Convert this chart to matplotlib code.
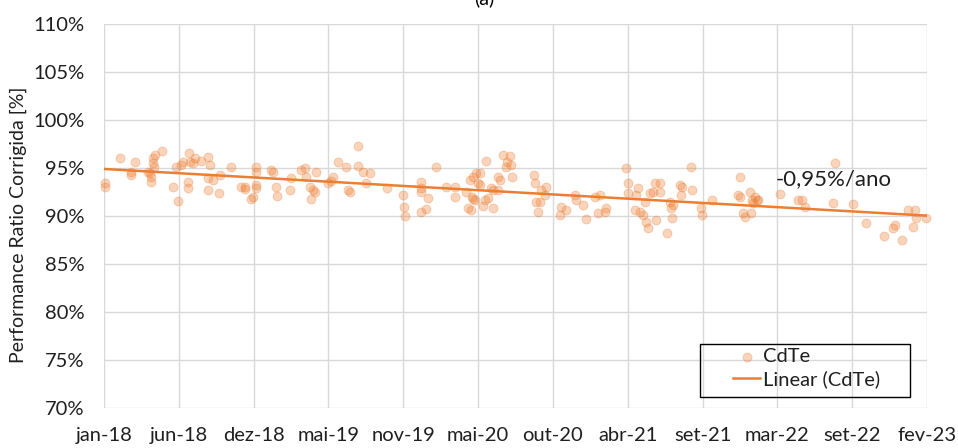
import numpy as np
import matplotlib
matplotlib.use("Agg")
import matplotlib.pyplot as plt
import matplotlib.dates as mdates
from matplotlib.patches import Rectangle
import datetime as dt

# ---------------- data ----------------
start_date = dt.date(2018, 1, 5)          # first axis tick
tick_step_days = 170                      # spacing between axis labels
n_ticks = 12
month_pt = ["jan", "fev", "mar", "abr", "mai", "jun",
            "jul", "ago", "set", "out", "nov", "dez"]

# days since start_date
days = [2, 2, 36, 61, 61, 70, 100, 105, 107, 107, 111, 116, 111, 114, 132, 157, 168,
        164, 175, 180, 193, 195, 202, 207, 191, 191, 220, 236, 241, 236, 248, 236,
        261, 264, 289, 311,
        320, 320, 339, 334, 345, 345, 345, 345, 380, 384, 391, 393, 423, 425,
        448, 457, 459, 468, 470, 475, 480, 482, 509, 516, 520, 532, 550, 555, 559,
        577, 577, 589, 605, 596,
        643, 680, 682, 684, 721, 721, 721, 721, 732, 736, 755, 777, 798, 798,
        823, 827, 834, 832, 839, 846, 855, 839, 843, 836, 850, 855, 861, 866, 873,
        868, 884, 880, 884, 896, 900, 896, 907, 923, 916, 914, 925, 927,
        977, 980, 982, 991, 986, 993, 1005, 1002, 1039, 1036, 1050, 1071, 1073,
        1089, 1096, 1116, 1127, 1123, 1141, 1139, 1187, 1191, 1191, 1207, 1218,
        1225, 1214, 1209, 1232, 1236, 1241, 1248, 1230, 1252, 1264, 1255, 1264,
        1280, 1286, 1289, 1293, 1291, 1309, 1314, 1312, 1334, 1336, 1357, 1359,
        1382, 1441, 1446, 1446, 1452, 1457, 1468, 1473, 1475, 1480, 1484, 1487,
        1471, 1537, 1577, 1586, 1593,
        1662, 1657, 1702, 1732, 1773, 1798, 1793, 1814, 1827, 1843, 1846, 1839, 1868]

pr_cdte = [93.4, 93.0, 96.0, 94.6, 94.3, 95.6, 94.6, 94.5, 94.1, 93.5, 96.0, 96.4, 95.5, 95.1, 96.8, 93.0, 91.6,
           95.1, 95.3, 95.6, 96.6, 95.6, 95.5, 96.0, 93.5, 92.9, 95.7, 96.1, 95.3, 94.0, 93.75, 92.7,
           92.4, 94.3, 95.1, 93.0,
           93.0, 92.8, 92.0, 91.8, 95.1, 94.6, 93.2, 92.9, 94.8, 94.6, 93.0, 92.1, 92.7, 94.0,
           94.8, 95.0, 94.1, 93.0, 91.8, 92.7, 92.5, 94.6, 93.4, 93.6, 94.1, 95.6, 95.1, 92.7, 92.5,
           97.3, 95.2, 94.6, 94.5, 93.4,
           92.9, 92.2, 90.9, 90.0, 93.5, 92.9, 92.5, 90.4, 90.7, 91.9, 95.1, 93.0, 93.0, 92.0,
           92.5, 90.8, 90.6, 93.75, 94.1, 94.5, 94.5, 91.8, 91.7, 92.0, 93.4, 93.2, 91.0, 91.7, 91.9,
           95.7, 90.8, 92.9, 92.7, 94.1, 93.75, 92.7, 96.4, 96.3, 95.6, 95.1, 95.3, 94.1,
           94.3, 93.4, 91.5, 91.5, 90.4, 92.7, 93.0, 92.2, 90.9, 90.1, 90.6, 92.2, 91.7,
           91.15, 89.7, 92.0, 92.2, 90.3, 90.8, 90.4, 95.0, 93.4, 92.4, 90.6, 90.4,
           90.1, 92.9, 92.2, 89.4, 88.75, 92.4, 92.5, 91.5, 93.4, 93.4, 89.6, 92.5,
           88.2, 91.5, 90.8, 91.15, 89.8, 93.2, 93.0, 92.2, 95.1, 92.7, 90.8, 90.1,
           91.7, 92.2, 94.1, 92.0, 90.3, 89.9, 92.5, 91.7, 91.4, 92.0, 91.7, 91.7,
           90.3, 92.3, 91.7, 91.7, 90.9,
           95.5, 91.4, 91.25, 89.3, 87.9, 89.1, 88.75, 87.5, 90.6, 90.6, 89.8, 88.9, 89.8]

trend_start_value = 94.9      # % at start_date
trend_slope_per_year = -0.95  # %/ano
annotation = "-0,95%/ano"
annotation_day, annotation_value = 1525, 93.8

y_ticks = [70, 75, 80, 85, 90, 95, 100, 105, 110]

# ---------------- plot ----------------
plt.rcParams['font.family'] = ['Lato', 'DejaVu Sans']
orange = '#ED7D31'
txt = '#1f1f1f'

fig = plt.figure(figsize=(9.58, 4.48), dpi=100)
ax = fig.add_axes([104/958, 1-408/448, (927-104)/958, (408-24)/448])

start_num = mdates.date2num(start_date)
x = start_num + np.array(days)
tick_pos = start_num + np.arange(n_ticks) * tick_step_days
tick_dates = [mdates.num2date(t) for t in tick_pos]
tick_labels = [f"{month_pt[d.month-1]}-{d.year % 100:02d}" for d in tick_dates]

ax.scatter(x, pr_cdte, s=42, color=orange, alpha=0.33, edgecolors=orange,
           linewidths=0.6, zorder=3, label='CdTe', clip_on=False)

xt = np.array([tick_pos[0], tick_pos[-1]])
yt = trend_start_value + trend_slope_per_year * (xt - start_num) / 365.25
ax.plot(xt, yt, color=orange, lw=1.8, zorder=4, label='Linear (CdTe)')

ax.text(start_num + annotation_day, annotation_value, annotation, fontsize=16,
        ha='left', va='center', color=txt, zorder=5)

ax.set_xlim(tick_pos[0], tick_pos[-1])
ax.set_ylim(70, 110)
ax.set_xticks(tick_pos)
ax.set_xticklabels(tick_labels)
ax.set_yticks(y_ticks)
ax.set_yticklabels([f"{v}%" for v in y_ticks])
ax.tick_params(axis='both', length=0, labelsize=14.5, colors=txt)
ax.tick_params(axis='x', pad=13.5)
ax.tick_params(axis='y', pad=14)
ax.grid(True, color='#D9D9D9', lw=1.0, zorder=0)
ax.set_axisbelow(True)
for s in ax.spines.values():
    s.set_visible(False)

ax.set_ylabel("Performance Ratio Corrigida [%]", fontsize=14, color=txt)
ax.yaxis.set_label_coords(-0.094, 0.477)

# legend (frame drawn separately to mimic the wide Excel legend box)
leg = ax.legend(loc='upper left', bbox_to_anchor=((733-104)/823, (408-348)/384),
                fontsize=14.5, frameon=False, borderpad=0, borderaxespad=0,
                labelspacing=0.25, handlelength=1.35, handletextpad=0.15)
for t in leg.get_texts():
    t.set_color(txt)
ax.add_patch(Rectangle(((700-104)/823, (408-397)/384), (910-700)/823, (397-344)/384,
                       transform=ax.transAxes, fill=False, edgecolor='black', lw=1.0,
                       zorder=6, clip_on=False))

fig.text(0.505, 1.005, "(a)", ha='center', va='center', fontsize=14)

fig.savefig("out.png", dpi=100)
